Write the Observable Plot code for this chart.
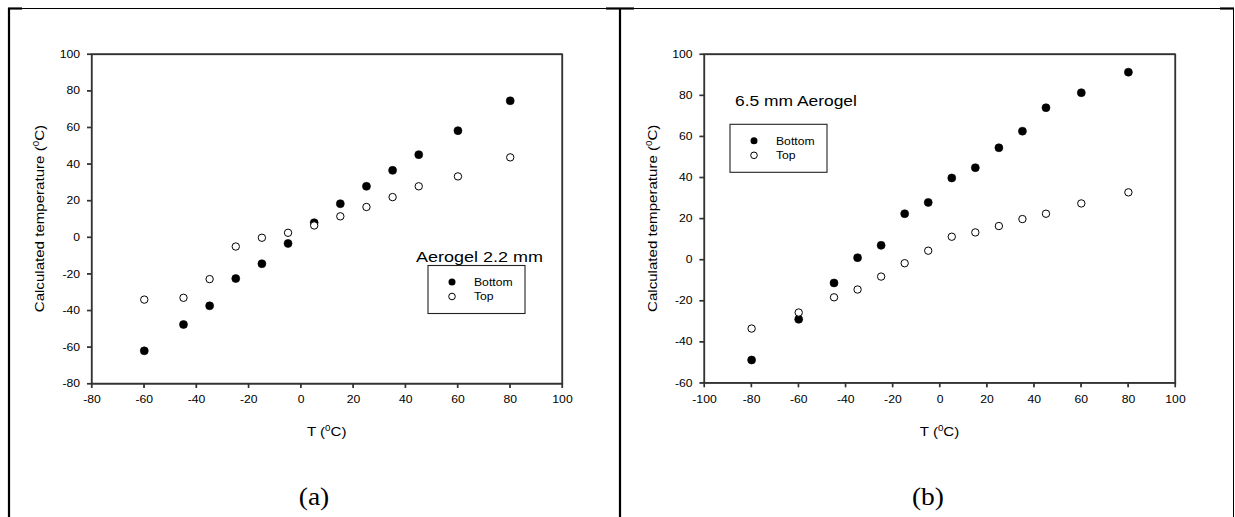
<!DOCTYPE html>
<html>
<head>
<meta charset="utf-8">
<script src="https://cdn.jsdelivr.net/npm/d3@7"></script>
<script src="https://cdn.jsdelivr.net/npm/@observablehq/plot@0.6"></script>
<style>
  html, body { margin: 0; padding: 0; background: #fff; }
  #wrap { position: relative; width: 1235px; height: 517px; background: #fff; overflow: hidden; }
  #wrap > svg { position: absolute; top: 0; }
</style>
</head>
<body>
<div id="wrap"></div>
<script>
// ---------- data ----------
const tempA = [-60, -45, -35, -25, -15, -5, 5, 15, 25, 35, 45, 60, 80];
const bottomA = [-61.9, -47.5, -37.3, -22.4, -14.3, -3.2, 8.1, 18.5, 28.0, 36.7, 45.3, 58.4, 74.7];
const topA = [-33.9, -32.9, -22.7, -4.9, -0.1, 2.6, 6.6, 11.6, 16.7, 22.1, 28.0, 33.4, 43.8];

const tempB = [-80, -60, -45, -35, -25, -15, -5, 5, 15, 25, 35, 45, 60, 80];
const bottomB = [-48.7, -28.9, -11.2, 1.1, 7.1, 22.5, 28.0, 39.9, 44.9, 54.6, 62.7, 74.1, 81.4, 91.4];
const topB = [-33.4, -25.6, -18.2, -14.4, -8.1, -1.6, 4.5, 11.3, 13.4, 16.5, 19.9, 22.5, 27.5, 32.9];

const xTicksA = [-80, -60, -40, -20, 0, 20, 40, 60, 80, 100];
const yTicksA = [-80, -60, -40, -20, 0, 20, 40, 60, 80, 100];
const xTicksB = [-100, -80, -60, -40, -20, 0, 20, 40, 60, 80, 100];
const yTicksB = [-60, -40, -20, 0, 20, 40, 60, 80, 100];

const seriesNames = ["Bottom", "Top"];
const titleA = "Aerogel 2.2 mm";
const titleB = "6.5 mm Aerogel";
const panelLabels = ["(a)", "(b)"];
const yTitle = ["Calculated temperature (", "0", "C)"];
const xTitle = ["T (", "0", "C)"];

const tableA = tempA.map((t, i) => ({t, bottom: bottomA[i], top: topA[i]}));
const tableB = tempB.map((t, i) => ({t, bottom: bottomB[i], top: topB[i]}));

const SANS = "'Liberation Sans', Arial, Helvetica, sans-serif";
const SERIF = "'Liberation Serif', 'Times New Roman', serif";
const AXC = "#333333";

const W = 1235, H = 517;
const layoutA = {left: 0, w: 620, l: 91.5, r: 58, t: 54, b: 133.5, xDom: [-80, 100], yDom: [-80, 100], xt: xTicksA, yt: yTicksA};
const layoutB = {left: 620, w: 615, l: 84, r: 60, t: 54, b: 134.3, xDom: [-100, 100], yDom: [-60, 100], xt: xTicksB, yt: yTicksB};

function panel(table, lay) {
  return Plot.plot({
    width: lay.w, height: H,
    marginLeft: lay.l, marginRight: lay.r, marginTop: lay.t, marginBottom: lay.b,
    style: {fontFamily: SANS, fontSize: "10.5px", color: "#000", background: "transparent", overflow: "visible"},
    x: {domain: lay.xDom, label: null},
    y: {domain: lay.yDom, label: null},
    marks: [
      Plot.frame({stroke: AXC, strokeWidth: 1.3}),
      Plot.axisX({ticks: lay.xt, tickSize: 4.5, tickPadding: 7.5, stroke: AXC, strokeWidth: 1.2, fill: "#000", label: null, tickFormat: d => String(d)}),
      Plot.axisY({ticks: lay.yt, tickSize: 4.5, tickPadding: 7.5, stroke: AXC, strokeWidth: 1.2, fill: "#000", label: null, tickFormat: d => String(d)}),
      Plot.dot(table, {x: "t", y: "bottom", r: 4, fill: "#000", stroke: "#000", strokeWidth: 0.6}),
      Plot.dot(table, {x: "t", y: "top", r: 3.7, fill: "#fff", stroke: "#000", strokeWidth: 1})
    ]
  });
}

const wrap = document.getElementById("wrap");
const pA = panel(tableA, layoutA);
pA.style.left = layoutA.left + "px";
const pB = panel(tableB, layoutB);
pB.style.left = layoutB.left + "px";
wrap.appendChild(pA);
wrap.appendChild(pB);

// ---------- overlay: plot boxes, table frame, titles, legends ----------
const ov = d3.select(wrap).append("svg")
  .attr("width", W).attr("height", H)
  .style("left", "0px")
  .attr("font-family", SANS);

function L(x1, y1, x2, y2, sw, col) {
  ov.append("line").attr("x1", x1).attr("y1", y1).attr("x2", x2).attr("y2", y2)
    .attr("stroke", col || "#000").attr("stroke-width", sw);
}

// plot boxes from the layout margins; tick positions from each plot's x/y scale
function box(plot, lay) {
  const xa = lay.left + lay.l, xb = lay.left + lay.w - lay.r;
  const ya = lay.t, yb = H - lay.b;
  L(xa - 0.65, ya, xb + 0.65, ya, 1.3, AXC);
  L(xa - 0.65, yb, xb + 0.65, yb, 1.3, AXC);
  L(xa, ya, xa, yb, 1.3, AXC);
  L(xb, ya, xb, yb, 1.3, AXC);
  const sx = plot.scale("x"), sy = plot.scale("y");
  lay.xt.forEach(v => { const x = lay.left + sx.apply(v); L(x, yb, x, yb + 4.5, 1.2, AXC); });
  lay.yt.forEach(v => { const y = sy.apply(v); L(xa - 4.5, y, xa, y, 1.2, AXC); });
}
box(pA, layoutA);
box(pB, layoutB);

// table borders
[
  [8, 8.5, 1234, 8.5, 1],
  [8, 8.5, 22, 8.5, 2.2],
  [606, 8.5, 634, 8.5, 2.2],
  [1220, 8.5, 1234, 8.5, 2.2],
  [9, 8, 9, 517, 2.2],
  [620, 8, 620, 517, 2.2],
  [1233.5, 8, 1233.5, 517, 1]
].forEach(([x1, y1, x2, y2, sw]) => L(x1, y1, x2, y2, sw));

function supText(g, parts, x, y, rotate, size) {
  const t = g.append("text")
    .attr("text-anchor", "middle")
    .attr("font-size", size)
    .attr("fill", "#000")
    .attr("transform", `translate(${x},${y})` + (rotate ? " rotate(-90)" : ""))
    .attr("dy", "0.35em");
  t.append("tspan").text(parts[0]);
  t.append("tspan").attr("font-size", size * 0.65).attr("dy", -size * 0.38).text(parts[1]);
  t.append("tspan").attr("dy", size * 0.38).text(parts[2]);
  return t;
}

// axis titles
supText(ov, yTitle, 39.5, 218.6, true, 13);
supText(ov, xTitle, 326.7, 431.5, false, 13);
supText(ov, yTitle, 652, 218.3, true, 13);
supText(ov, xTitle, 939.5, 431.5, false, 13);

// annotations
ov.append("text").attr("x", 416).attr("y", 261.5).attr("font-size", 15.5).text(titleA);
ov.append("text").attr("x", 735).attr("y", 106).attr("font-size", 15).text(titleB);

// legends
function legend(x0, y0, w, h) {
  const g = ov.append("g").attr("transform", `translate(${x0},${y0})`);
  g.append("rect").attr("width", w).attr("height", h).attr("fill", "#fff").attr("stroke", "#222").attr("stroke-width", 1.1);
  const rows = [16.5, 31];
  g.append("circle").attr("cx", 24).attr("cy", rows[0]).attr("r", 3.5).attr("fill", "#000");
  g.append("circle").attr("cx", 24).attr("cy", rows[1]).attr("r", 3.3).attr("fill", "#fff").attr("stroke", "#000").attr("stroke-width", 1);
  seriesNames.forEach((s, i) => g.append("text").attr("x", 46).attr("y", rows[i]).attr("dy", "0.36em").attr("font-size", 10.5).text(s));
}
legend(428, 265.5, 97, 48);
legend(730, 124.3, 97, 48);

// panel labels
ov.append("text").attr("class", "serif").attr("x", 314).attr("y", 505).attr("text-anchor", "middle").attr("font-family", SERIF).attr("font-size", 25).text(panelLabels[0]);
ov.append("text").attr("class", "serif").attr("x", 928).attr("y", 505).attr("text-anchor", "middle").attr("font-family", SERIF).attr("font-size", 25).text(panelLabels[1]);

// widen glyphs slightly (the original text is horizontally broad)
wrap.querySelectorAll("text").forEach(t => {
  if (!t.textContent.trim()) return;
  const k = t.classList.contains("serif") ? 1.1 : 1.16;
  const len = t.getComputedTextLength();
  if (len > 0) {
    t.setAttribute("textLength", (len * k).toFixed(2));
    t.setAttribute("lengthAdjust", "spacingAndGlyphs");
  }
});
</script>
</body>
</html>
